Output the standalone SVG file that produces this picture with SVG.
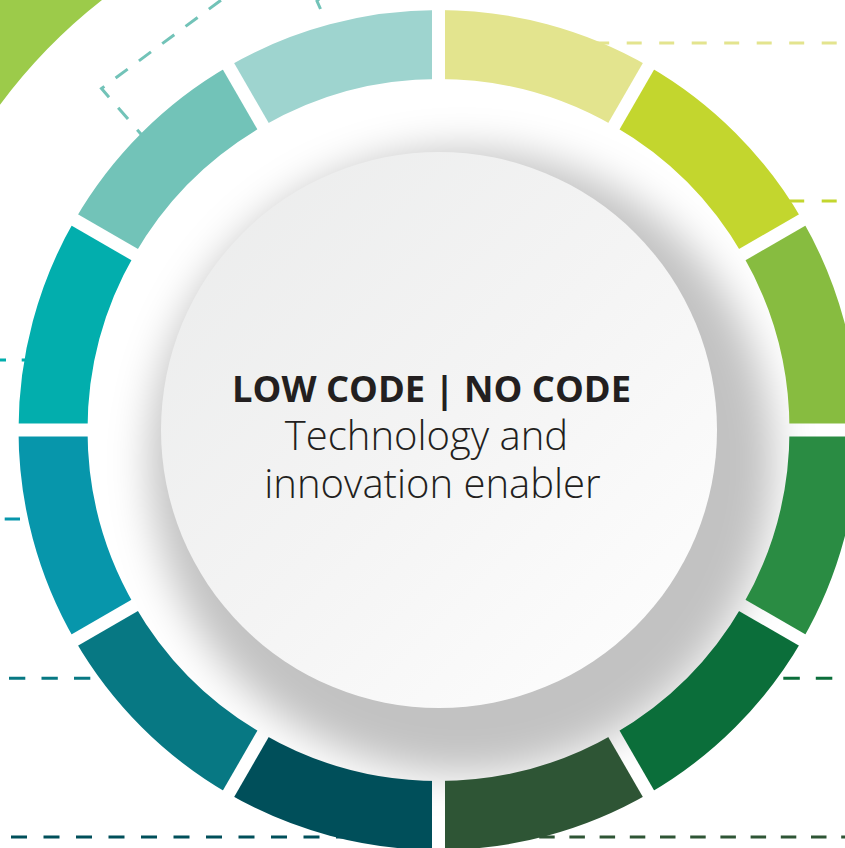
<svg xmlns="http://www.w3.org/2000/svg" width="845" height="848" viewBox="0 0 845 848">
  <style>
    .dash { fill: none; stroke-width: 3; }
    .seg { fill: none; stroke-width: 69; }
    .title { font-family: "Open Sans", "Liberation Sans", sans-serif; fill: #231F20; text-anchor: middle; }
  </style>
  <defs>
    <mask id="gaps" maskUnits="userSpaceOnUse" x="0" y="0" width="845" height="848">
      <rect x="0" y="0" width="845" height="848" fill="#fff"/>
      <g stroke="#000" stroke-width="13">
        <line x1="438.5" y1="-200" x2="438.5" y2="1060" transform="rotate(0 438.5 430)"/>
        <line x1="438.5" y1="-200" x2="438.5" y2="1060" transform="rotate(30 438.5 430)"/>
        <line x1="438.5" y1="-200" x2="438.5" y2="1060" transform="rotate(60 438.5 430)"/>
        <line x1="438.5" y1="-200" x2="438.5" y2="1060" transform="rotate(90 438.5 430)"/>
        <line x1="438.5" y1="-200" x2="438.5" y2="1060" transform="rotate(120 438.5 430)"/>
        <line x1="438.5" y1="-200" x2="438.5" y2="1060" transform="rotate(150 438.5 430)"/>
      </g>
    </mask>
    <filter id="blur" x="-30%" y="-30%" width="160%" height="160%">
      <feGaussianBlur stdDeviation="20"/>
    </filter>
    <linearGradient id="disc" x1="0" y1="0" x2="1" y2="1">
      <stop offset="0" stop-color="#EAEBEB"/>
      <stop offset="0.5" stop-color="#F4F4F4"/>
      <stop offset="1" stop-color="#FFFFFF"/>
    </linearGradient>
  </defs>

  <rect x="0" y="0" width="845" height="848" fill="#fff"/>

  <g id="corner-shape">
    <path d="M0 0 L102 0 A546 546 0 0 0 0 104.7 Z" fill="#9CCB4A"/>
  </g>

  <g id="connectors">
    <line class="dash" x1="594.2" y1="43" x2="845" y2="43" stroke="#E3E48E" stroke-dasharray="15 17.5"/>
    <line class="dash" x1="756.7" y1="201" x2="845" y2="201" stroke="#C3D62E" stroke-dasharray="15 17.5"/>
    <line class="dash" x1="750.8" y1="678.3" x2="845" y2="678.3" stroke="#0B6E3A" stroke-dasharray="16.5 16"/>
    <line class="dash" x1="509" y1="837" x2="845" y2="837" stroke="#2E5535" stroke-dasharray="15.5 14.7"/>
    <line class="dash" x1="11" y1="837" x2="350" y2="837" stroke="#004F5A" stroke-dasharray="16 16.5"/>
    <line class="dash" x1="9" y1="678.3" x2="110" y2="678.3" stroke="#077883" stroke-dasharray="16.3 16.2"/>
    <line class="dash" x1="-27.8" y1="519" x2="40" y2="519" stroke="#0796AB" stroke-dasharray="15.3 17.2"/>
    <line class="dash" x1="-10" y1="360" x2="40" y2="360" stroke="#02AEAD" stroke-dasharray="16 15.7"/>
    <polyline class="dash" points="147,141 101.5,88.5 232,-8" stroke="#72C3B8" stroke-dasharray="15 14" stroke-linejoin="miter"/>
    <polyline class="dash" points="320.5,9 317,1 321,-3" stroke="#72C3B8"/>
  </g>

  <g id="shadow">
    <circle cx="462" cy="462" r="312" fill="#000" fill-opacity="0.24" filter="url(#blur)"/>
  </g>

  <g id="ring" mask="url(#gaps)">
    <g id="seg-1"><path class="seg" stroke="#E3E48E" d="M438.5 44.5 A385.5 385.5 0 0 1 631.25 96.14"/></g>
    <g id="seg-2"><path class="seg" stroke="#C3D62E" d="M631.25 96.14 A385.5 385.5 0 0 1 772.36 237.25"/></g>
    <g id="seg-3"><path class="seg" stroke="#87BC40" d="M772.36 237.25 A385.5 385.5 0 0 1 824 430"/></g>
    <g id="seg-4"><path class="seg" stroke="#2A8C43" d="M824 430 A385.5 385.5 0 0 1 772.36 622.75"/></g>
    <g id="seg-5"><path class="seg" stroke="#0B6E3A" d="M772.36 622.75 A385.5 385.5 0 0 1 631.25 763.86"/></g>
    <g id="seg-6"><path class="seg" stroke="#2E5535" d="M631.25 763.86 A385.5 385.5 0 0 1 438.5 815.5"/></g>
    <g id="seg-7"><path class="seg" stroke="#004F5A" d="M438.5 815.5 A385.5 385.5 0 0 1 245.75 763.86"/></g>
    <g id="seg-8"><path class="seg" stroke="#077883" d="M245.75 763.86 A385.5 385.5 0 0 1 104.64 622.75"/></g>
    <g id="seg-9"><path class="seg" stroke="#0796AB" d="M104.64 622.75 A385.5 385.5 0 0 1 53 430"/></g>
    <g id="seg-10"><path class="seg" stroke="#02AEAD" d="M53 430 A385.5 385.5 0 0 1 104.64 237.25"/></g>
    <g id="seg-11"><path class="seg" stroke="#72C3B8" d="M104.64 237.25 A385.5 385.5 0 0 1 245.75 96.14"/></g>
    <g id="seg-12"><path class="seg" stroke="#9ED4CF" d="M245.75 96.14 A385.5 385.5 0 0 1 438.5 44.5"/></g>
  </g>

  <g id="center">
    <circle cx="439" cy="430" r="278" fill="url(#disc)"/>
    <text class="title" x="431.5" y="401.5" font-size="36.3" font-weight="700">LOW CODE | NO CODE</text>
    <text class="title" x="426.5" y="450" font-size="40" font-weight="300">Technology and</text>
    <text class="title" x="432.5" y="498" font-size="40" font-weight="300">innovation enabler</text>
  </g>
</svg>
